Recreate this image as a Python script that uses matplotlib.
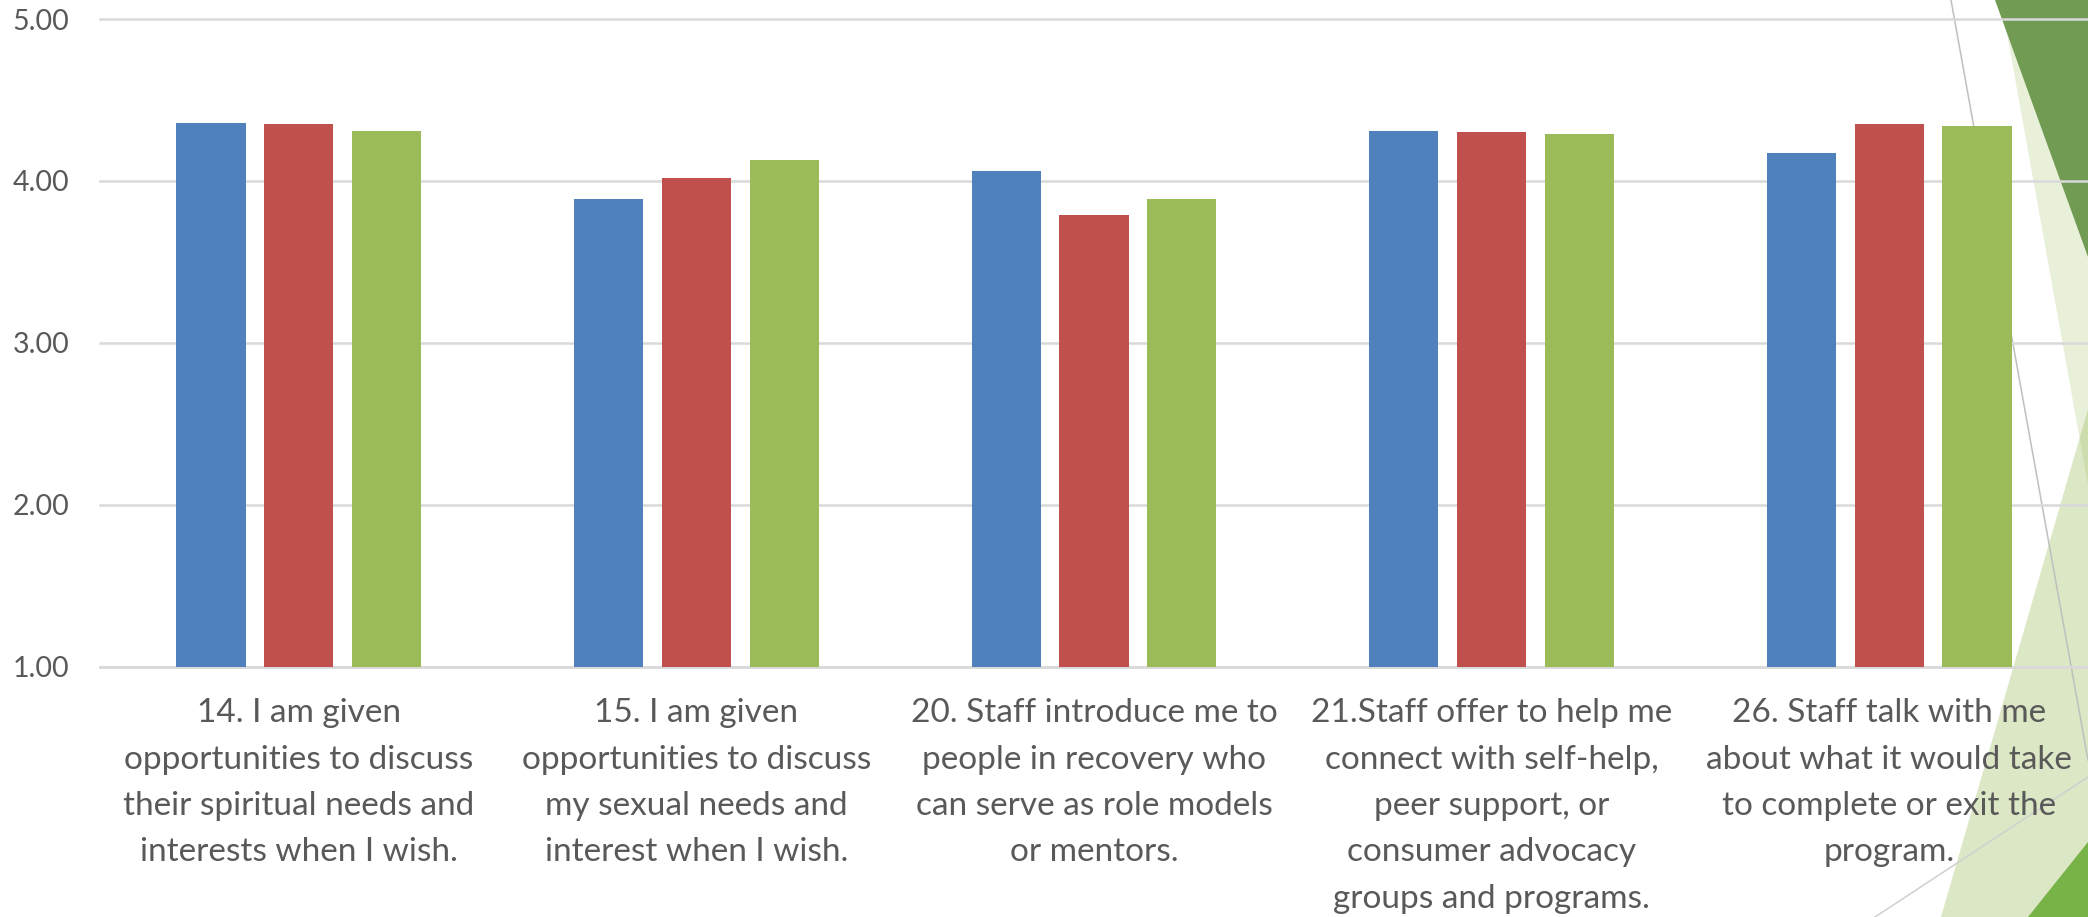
import numpy as np
import matplotlib.pyplot as plt
from matplotlib.patches import Polygon
from matplotlib.lines import Line2D

plt.rcParams['font.family'] = ['Lato', 'DejaVu Sans']

categories = [
    "14. I am given\nopportunities to discuss\ntheir spiritual needs and\ninterests when I wish.",
    "15. I am given\nopportunities to discuss\nmy sexual needs and\ninterest when I wish.",
    "20. Staff introduce me to\npeople in recovery who\ncan serve as role models\nor mentors.",
    "21.Staff offer to help me\nconnect with self-help,\npeer support, or\nconsumer advocacy\ngroups and programs.",
    "26. Staff talk with me\nabout what it would take\nto complete or exit the\nprogram.",
]
blue_vals = [4.36, 3.89, 4.06, 4.31, 4.17]
red_vals = [4.35, 4.02, 3.79, 4.30, 4.35]
green_vals = [4.31, 4.13, 3.89, 4.29, 4.34]
y_ticks = [1.0, 2.0, 3.0, 4.0, 5.0]

W, H = 2088, 917
fig = plt.figure(figsize=(W / 100, H / 100), dpi=100)

# slide background decorations (pixel coords of the slide)
def px(points):
    return [(x / W, 1 - y / H) for x, y in points]

deco = [
    (px([(2001, 0), (2088, 0), (2088, 485)]), '#9BBB59', 0.22),
    (px([(1941, 917), (2088, 917), (2088, 409)]), '#9BBB59', 0.34),
    (px([(1995, 0), (2088, 0), (2088, 257)]), '#719B52', 1.0),
    (px([(2028, 917), (2088, 917), (2088, 842)]), '#78B347', 1.0),
]
for pts, c, a in deco:
    fig.patches.append(Polygon(pts, closed=True, transform=fig.transFigure,
                               facecolor=c, edgecolor='none', alpha=a, zorder=-2))
for (x0, y0), (x1, y1), c in [((1951, 0), (2088, 760), '#BFBFBF'),
                              ((1875, 917), (2088, 777), '#D0D0D0')]:
    fig.lines.append(Line2D([x0 / W, x1 / W], [1 - y0 / H, 1 - y1 / H],
                            transform=fig.transFigure, color=c, lw=1.1, zorder=-1))

left = 100 / W
bottom = 1 - 666.5 / H
top = 1 - 19 / H
ax = fig.add_axes([left, bottom, 1 - left, top - bottom])
ax.set_facecolor('none')

x = np.arange(len(categories))
w = 0.174
off = 0.221
ax.bar(x - off, blue_vals, w, color='#4F81BD', zorder=3)
ax.bar(x, red_vals, w, color='#C0504D', zorder=3)
ax.bar(x + off, green_vals, w, color='#9BBB59', zorder=3)

ax.set_xlim(-0.5, len(categories) - 0.5)
ax.set_ylim(1, 5)
ax.set_yticks(y_ticks)
ax.set_yticklabels([f"{v:.2f}" for v in y_ticks])
ax.set_xticks(x)
ax.set_xticklabels(categories)

for s in ['top', 'right', 'left']:
    ax.spines[s].set_visible(False)
ax.spines['bottom'].set_color('#D9D9D9')
ax.spines['bottom'].set_linewidth(1.8)

ax.yaxis.grid(True, color='#D9D9D9', lw=1.8, zorder=0)
ax.set_axisbelow(True)
for gl in ax.get_ygridlines():
    gl.set_clip_on(False)

ax.tick_params(axis='both', length=0, colors='#595959')
ax.tick_params(axis='y', labelsize=20.5, pad=22)
ax.tick_params(axis='x', labelsize=24, pad=23)
for lbl in ax.get_xticklabels():
    lbl.set_linespacing(1.68)

fig.savefig('out.png', dpi=100)
